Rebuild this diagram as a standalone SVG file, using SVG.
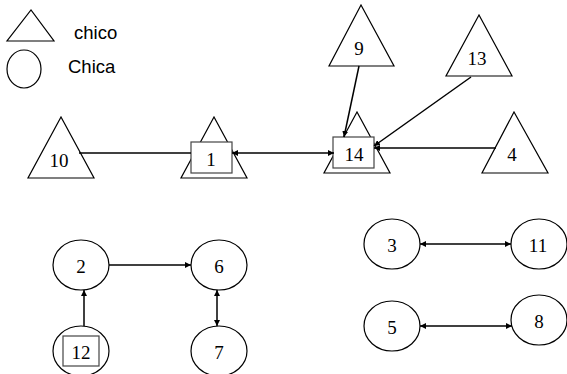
<svg xmlns="http://www.w3.org/2000/svg" width="567" height="374" viewBox="0 0 567 374">
<style>
.s{fill:#fff;stroke:#000;stroke-width:1.2}
.b{fill:#fff;stroke:#444;stroke-width:1.2}
.t{font-family:"Liberation Serif",serif;font-size:19px;text-anchor:middle}
.l{font-family:"Liberation Sans",sans-serif;font-size:18.5px}
.c{stroke:#000;stroke-width:1.5;fill:none}
</style>
<defs>
<marker id="ah" viewBox="0 0 8 8" refX="8" refY="4" markerWidth="6" markerHeight="6" markerUnits="userSpaceOnUse" orient="auto-start-reverse"><path d="M0,0 L8,4 L0,8 z" fill="#000"/></marker>
</defs>
<rect width="567" height="374" fill="#fff"/>
<g id="legend">
<polygon class="s" points="7,41 54,41 31,10"/>
<text class="l" x="74" y="39">chico</text>
<ellipse class="s" cx="24" cy="69" rx="17" ry="19"/>
<text class="l" x="68" y="73">Chica</text>
</g>
<g id="n10"><polygon class="s" points="28,178 94,178 61,117"/><text class="t" x="59" y="167">10</text></g>
<g id="n1"><polygon class="s" points="181,178 247,178 214,117"/><rect class="b" x="191" y="142" width="41" height="31"/><text class="t" x="211" y="166">1</text></g>
<g id="n9"><polygon class="s" points="329,66 394,66 361,5"/><text class="t" x="359" y="55">9</text></g>
<g id="n13"><polygon class="s" points="446,76 512,76 479,15"/><text class="t" x="477" y="65">13</text></g>
<g id="n14"><polygon class="s" points="324,173 390,173 357,112"/><rect class="b" x="333" y="137" width="41" height="31"/><text class="t" x="354" y="161">14</text></g>
<g id="n4"><polygon class="s" points="482,173 548,173 514,112"/><text class="t" x="512" y="161">4</text></g>
<g id="n2"><ellipse class="s" cx="81" cy="265" rx="28" ry="25"/><text class="t" x="81" y="273">2</text></g>
<g id="n6"><ellipse class="s" cx="219" cy="265" rx="28" ry="25"/><text class="t" x="219" y="273">6</text></g>
<g id="n12"><ellipse class="s" cx="81" cy="351" rx="28" ry="25"/><rect class="b" x="63" y="336" width="36" height="30"/><text class="t" x="81" y="359">12</text></g>
<g id="n7"><ellipse class="s" cx="219" cy="351" rx="28" ry="25"/><text class="t" x="219" y="359">7</text></g>
<g id="n3"><ellipse class="s" cx="392" cy="244" rx="28" ry="25"/><text class="t" x="392" y="252">3</text></g>
<g id="n11"><ellipse class="s" cx="539" cy="244" rx="28" ry="25"/><text class="t" x="538" y="252">11</text></g>
<g id="n5"><ellipse class="s" cx="392" cy="326" rx="28" ry="25"/><text class="t" x="392" y="334">5</text></g>
<g id="n8"><ellipse class="s" cx="539" cy="320" rx="28" ry="25"/><text class="t" x="539" y="328">8</text></g>
<g id="connectors">
<line class="c" x1="79" y1="153" x2="191" y2="153"/>
<line class="c" x1="232" y1="153" x2="334" y2="153" marker-start="url(#ah)" marker-end="url(#ah)"/>
<line class="c" x1="359" y1="66" x2="344" y2="137" marker-end="url(#ah)"/>
<line class="c" x1="471" y1="77" x2="374" y2="146" marker-end="url(#ah)"/>
<line class="c" x1="496" y1="148" x2="374" y2="148" marker-end="url(#ah)"/>
<line class="c" x1="109" y1="265" x2="191" y2="265" marker-end="url(#ah)"/>
<line class="c" x1="84" y1="326" x2="84" y2="290" marker-end="url(#ah)"/>
<line class="c" x1="217" y1="290" x2="217" y2="326" marker-start="url(#ah)" marker-end="url(#ah)"/>
<line class="c" x1="420" y1="244" x2="511" y2="244" marker-start="url(#ah)" marker-end="url(#ah)"/>
<line class="c" x1="420" y1="326" x2="512" y2="326" marker-start="url(#ah)" marker-end="url(#ah)"/>
</g>
</svg>
